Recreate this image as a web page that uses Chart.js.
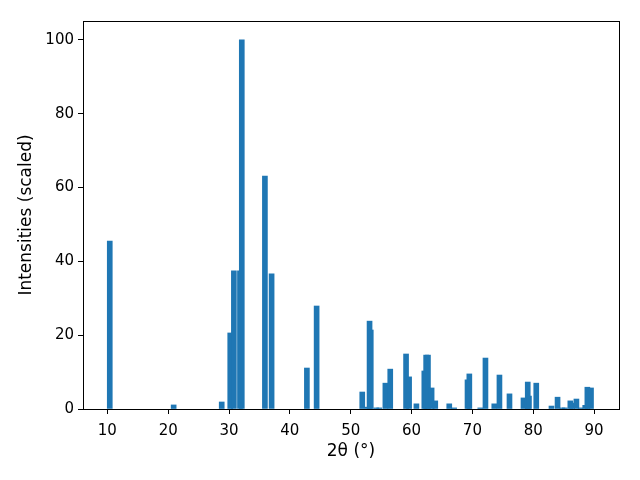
<!DOCTYPE html>
<html>
<head>
<meta charset="utf-8">
<script src="https://cdn.jsdelivr.net/npm/chart.js@4/dist/chart.umd.min.js"></script>
<style>
  html, body { margin: 0; padding: 0; background: #fff; }
  #wrap { width: 640px; height: 480px; }
</style>
</head>
<body>
<div id="wrap"><canvas id="c" width="640" height="480"></canvas></div>
<script>
// Peak positions (2θ, degrees) and scaled intensities
const twoTheta = [10.4, 20.9, 28.8, 30.2, 30.8, 31.8, 32.1, 35.9, 37.0, 42.8, 44.4,
  51.9, 52.8, 53.1, 53.3, 54.2, 54.7, 55.7, 56.5, 59.1, 59.6, 60.8, 62.1, 62.4, 62.7,
  63.3, 63.9, 66.2, 67.0, 69.2, 69.5, 71.3, 72.15, 73.6, 74.45, 76.1, 78.4, 79.1, 79.3,
  80.5, 83.0, 84.0, 84.8, 85.2, 86.1, 86.4, 87.1, 87.8, 88.55, 88.9, 89.5];
const intensity = [45.5, 1.1, 1.9, 20.6, 37.4, 37.4, 100, 63.1, 36.6, 11.1, 27.9,
  4.6, 0.5, 23.8, 21.4, 0.3, 0.3, 7.0, 10.8, 14.9, 8.7, 1.4, 10.3, 14.6, 14.6,
  5.7, 2.2, 1.4, 0.3, 7.9, 9.5, 0.3, 13.8, 1.4, 9.2, 4.1, 3.0, 7.3, 3.5,
  7.0, 0.8, 3.2, 0.3, 0.3, 2.2, 1.6, 2.7, 0.3, 1.0, 5.9, 5.7];
const xTicks = [10, 20, 30, 40, 50, 60, 70, 80, 90];
const yTicks = [0, 20, 40, 60, 80, 100];
const xLabel = '2θ (°)';
const yLabel = 'Intensities (scaled)';

const points = twoTheta.map((x, i) => ({ x: x, y: intensity[i] }));
const TICK_FONT = { family: 'DejaVu Sans', size: 15 };
const TITLE_FONT = { family: 'DejaVu Sans', size: 17 };

const frame = {
  id: 'frame',
  afterDraw(chart) {
    const a = chart.chartArea, ctx = chart.ctx;
    ctx.save();
    ctx.strokeStyle = '#000';
    ctx.lineWidth = 1;
    ctx.strokeRect(Math.round(a.left) + 0.5, Math.round(a.top) + 0.5,
                   Math.round(a.right - a.left), Math.round(a.bottom - a.top));
    ctx.restore();
  }
};

new Chart(document.getElementById('c'), {
  type: 'bar',
  data: {
    datasets: [{
      data: points,
      backgroundColor: '#1f77b4',
      borderWidth: 0,
      barThickness: 5,
      grouped: false
    }]
  },
  options: {
    responsive: false,
    animation: false,
    devicePixelRatio: 1,
    layout: { padding: { left: 0, top: 21, right: 21, bottom: 0 } },
    plugins: { legend: { display: false }, tooltip: { enabled: false } },
    scales: {
      x: {
        type: 'linear',
        min: 6.0,
        max: 94.1,
        offset: false,
        afterFit(s) { s.height = 71; },
        afterBuildTicks(s) { s.ticks = xTicks.map(v => ({ value: v })); },
        ticks: { font: TICK_FONT, color: '#000', padding: 8, maxRotation: 0, includeBounds: false },
        grid: { offset: false, drawOnChartArea: false, drawTicks: true, tickLength: 5, color: '#000', lineWidth: 1 },
        border: { display: true, color: '#000', width: 1 },
        title: { display: true, text: xLabel, font: TITLE_FONT, color: '#000', padding: { top: 4, bottom: 18 } }
      },
      y: {
        min: 0,
        max: 105.1,
        afterFit(s) { s.width = 83; },
        afterBuildTicks(s) { s.ticks = yTicks.map(v => ({ value: v })); },
        ticks: { font: TICK_FONT, color: '#000', padding: 4, includeBounds: false },
        grid: { offset: false, drawOnChartArea: false, drawTicks: true, tickLength: 5, color: '#000', lineWidth: 1 },
        border: { display: true, color: '#000', width: 1 },
        title: { display: true, text: yLabel, font: TITLE_FONT, color: '#000', padding: { top: 16, bottom: 4 } }
      }
    }
  },
  plugins: [frame]
});
</script>
</body>
</html>
